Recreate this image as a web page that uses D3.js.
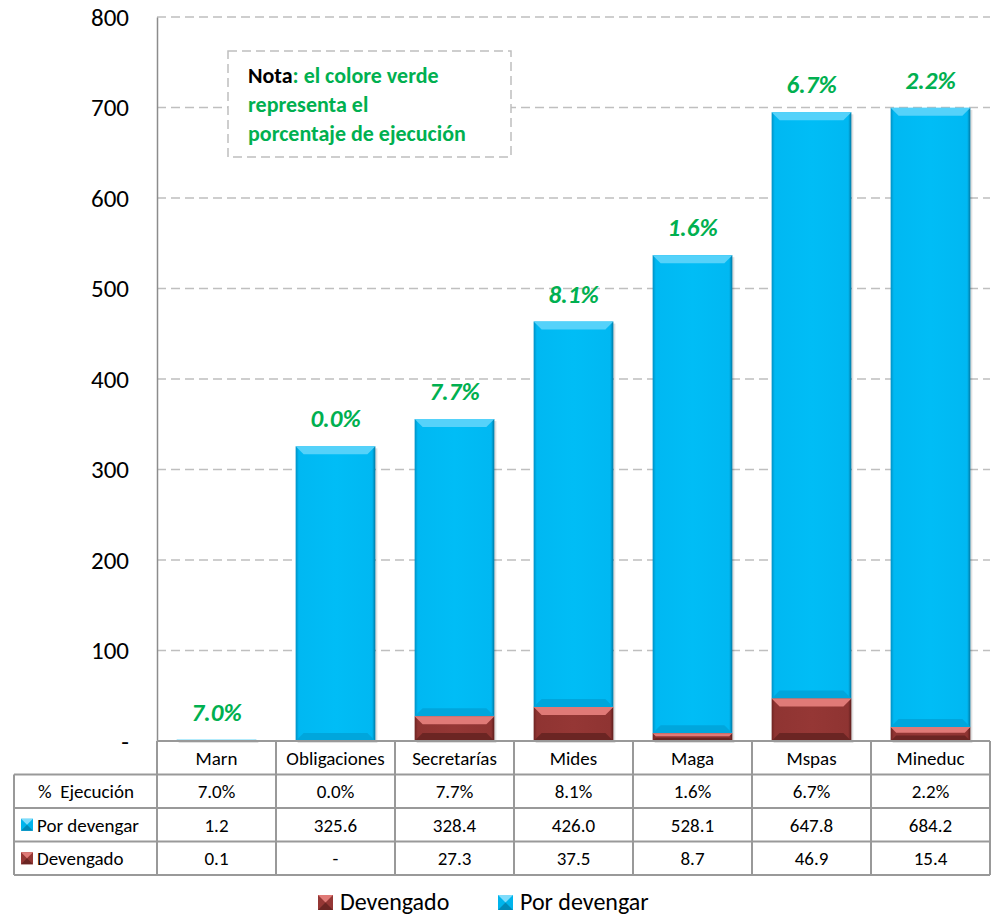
<!DOCTYPE html>
<html>
<head>
<meta charset="utf-8">
<script src="https://cdn.jsdelivr.net/npm/d3@7"></script>
<style>
  body { margin: 0; background: #fff; }
  svg { display: block; font-family: Carlito, Lato, "Open Sans", sans-serif; }
</style>
</head>
<body>
<div id="chart"></div>
<script>
// data
const categories = ["Marn", "Obligaciones", "Secretarías", "Mides", "Maga", "Mspas", "Mineduc"];
const devengado = [0.1, 0, 27.3, 37.5, 8.7, 46.9, 15.4];
const porDevengar = [1.2, 325.6, 328.4, 426.0, 528.1, 647.8, 684.2];
const ejecucion = [7.0, 0.0, 7.7, 8.1, 1.6, 6.7, 2.2];
const yTicks = [0, 100, 200, 300, 400, 500, 600, 700, 800];

const width = 996, height = 918;
const plotLeft = 157, plotRight = 990, plotTop = 17, plotBottom = 741;
const rowH = 33.5;

const svg = d3.select("#chart").append("svg")
    .attr("width", width)
    .attr("height", height);

const x = d3.scaleBand().domain(categories).range([plotLeft, plotRight]).paddingInner(0.33).paddingOuter(0.165);
const xCell = d3.scaleBand().domain(categories).range([plotLeft, plotRight]);
const y = d3.scaleLinear().domain([0, 800]).range([plotBottom, plotTop]);

// grid lines
svg.append("g")
    .selectAll("line")
    .data(yTicks.filter(d => d > 0))
    .join("line")
    .attr("x1", plotLeft).attr("x2", plotRight)
    .attr("y1", d => y(d)).attr("y2", d => y(d))
    .attr("stroke", "#bfbfbf")
    .attr("stroke-width", 1.5)
    .attr("stroke-dasharray", "9,5");

// y axis
const yAxis = svg.append("g")
    .attr("transform", "translate(" + plotLeft + ",0)")
    .call(d3.axisLeft(y).tickValues(yTicks).tickSize(0).tickPadding(28)
        .tickFormat(d => d === 0 ? "-" : d));
yAxis.select(".domain").attr("stroke", "#8c8c8c").attr("stroke-width", 1.5);
yAxis.selectAll("text").attr("font-size", 25).attr("fill", "#000")
    .attr("font-family", "Carlito, Lato, 'Open Sans', sans-serif");

// gradients for the bevel look
const defs = svg.append("defs");
function hGrad(id, stops) {
    const g = defs.append("linearGradient").attr("id", id)
        .attr("x1", 0).attr("x2", 1).attr("y1", 0).attr("y2", 0);
    stops.forEach(s => g.append("stop").attr("offset", s[0]).attr("stop-color", s[1]));
}
hGrad("blueBody", [[0, "#0090c4"], [0.04, "#00b8f2"], [0.5, "#00bdf6"], [0.96, "#00b8f2"], [1, "#0078a3"]]);
hGrad("redBody", [[0, "#6e2422"], [0.04, "#8f3432"], [0.5, "#953735"], [0.96, "#8f3432"], [1, "#5c1d1c"]]);

function drawBar(g, x0, w, y0, y1, body, bevelTop, bevelBot) {
    const h = y1 - y0;
    if (h <= 0) return;
    const b = Math.min(8, h / 2.5);
    g.append("rect").attr("x", x0).attr("y", y0).attr("width", w).attr("height", h)
        .attr("fill", body);
    g.append("polygon")
        .attr("points", [[x0, y0], [x0 + w, y0], [x0 + w - b, y0 + b], [x0 + b, y0 + b]].join(" "))
        .attr("fill", bevelTop);
    g.append("polygon")
        .attr("points", [[x0, y1], [x0 + w, y1], [x0 + w - b, y1 - b], [x0 + b, y1 - b]].join(" "))
        .attr("fill", bevelBot);
}

const bars = svg.append("g");
categories.forEach((c, i) => {
    const x0 = x(c), w = x.bandwidth();
    const d0 = devengado[i], p0 = porDevengar[i];
    // shadow
    bars.append("rect").attr("x", x0 + 2).attr("y", y(d0 + p0) + 2)
        .attr("width", w).attr("height", y(0) - y(d0 + p0))
        .attr("fill", "#000").attr("opacity", 0.12);
    drawBar(bars, x0, w, y(d0 + p0), y(d0), "url(#blueBody)", "#55d2fa", "#00a6dc");
    drawBar(bars, x0, w, y(d0), y(0), "url(#redBody)", "#e07a77", "#6b2523");
});

// percentage labels
svg.append("g")
    .selectAll("text")
    .data(categories)
    .join("text")
    .attr("x", d => x(d) + x.bandwidth() / 2)
    .attr("y", (d, i) => y(devengado[i] + porDevengar[i]) - 19)
    .attr("text-anchor", "middle")
    .attr("font-size", 25)
    .attr("font-weight", "bold")
    .attr("font-style", "italic")
    .attr("fill", "#00b050")
    .text((d, i) => ejecucion[i].toFixed(1) + "%");

// nota box
const nota = svg.append("g");
nota.append("rect").attr("x", 228).attr("y", 51).attr("width", 283).attr("height", 106)
    .attr("fill", "#fff").attr("stroke", "#bfbfbf").attr("stroke-width", 1.5)
    .attr("stroke-dasharray", "9,5");
const notaText = nota.append("text").attr("font-size", 22).attr("font-weight", "bold").attr("fill", "#00b050");
const l1 = notaText.append("tspan").attr("x", 248).attr("y", 83);
l1.append("tspan").attr("fill", "#000").text("Nota");
l1.append("tspan").text(": el colore verde");
notaText.append("tspan").attr("x", 248).attr("y", 112).text("representa el");
notaText.append("tspan").attr("x", 248).attr("y", 141).text("porcentaje de ejecución");

// data table
const table = svg.append("g");
const lineColor = "#999";
const fmt = v => v === 0 ? "-" : v.toFixed(1);
const rows = [
    { label: "%  Ejecución", values: ejecucion.map(v => v.toFixed(1) + "%"), swatch: null },
    { label: "Por devengar", values: porDevengar.map(fmt), swatch: "blue" },
    { label: "Devengado", values: devengado.map(fmt), swatch: "red" }
];
const tableBottom = plotBottom + rowH * 4;
const cellFont = 19;

// verticals
categories.concat(["_end"]).forEach((c, i) => {
    const xv = i < categories.length ? xCell(c) : plotRight;
    table.append("line").attr("x1", xv).attr("x2", xv).attr("y1", plotBottom).attr("y2", tableBottom)
        .attr("stroke", lineColor).attr("stroke-width", 2);
});
table.append("line").attr("x1", 14).attr("x2", 14).attr("y1", plotBottom + rowH).attr("y2", tableBottom)
    .attr("stroke", lineColor).attr("stroke-width", 2);
// horizontals
table.append("line").attr("x1", plotLeft).attr("x2", plotRight).attr("y1", plotBottom).attr("y2", plotBottom)
    .attr("stroke", lineColor).attr("stroke-width", 2);
[1, 2, 3, 4].forEach(r => {
    table.append("line").attr("x1", 14).attr("x2", plotRight)
        .attr("y1", plotBottom + rowH * r).attr("y2", plotBottom + rowH * r)
        .attr("stroke", lineColor).attr("stroke-width", 2);
});

// category row
table.selectAll(".cat").data(categories).join("text")
    .attr("x", d => xCell(d) + xCell.bandwidth() / 2)
    .attr("y", plotBottom + rowH / 2 + 7)
    .attr("text-anchor", "middle").attr("font-size", cellFont).attr("fill", "#000")
    .text(d => d);

function swatch(g, sx, sy, kind, s) {
    g.append("rect").attr("x", sx).attr("y", sy).attr("width", s).attr("height", s)
        .attr("fill", kind === "blue" ? "#00b4ec" : "#953735");
    g.append("polygon")
        .attr("points", [[sx, sy], [sx + s, sy], [sx + s / 2, sy + s / 2]].join(" "))
        .attr("fill", kind === "blue" ? "#7fdcfb" : "#e07a77");
    g.append("polygon")
        .attr("points", [[sx, sy + s], [sx + s, sy + s], [sx + s / 2, sy + s / 2]].join(" "))
        .attr("fill", kind === "blue" ? "#0089b8" : "#6b2523");
}

rows.forEach((row, r) => {
    const cy = plotBottom + rowH * (r + 1) + rowH / 2 + 7;
    if (row.swatch) {
        swatch(table, 21, cy - 13, row.swatch, 12);
        table.append("text").attr("x", 37).attr("y", cy).attr("font-size", cellFont).text(row.label);
    } else {
        table.append("text").attr("x", 86).attr("y", cy).attr("text-anchor", "middle")
            .attr("font-size", cellFont).style("white-space", "pre").text(row.label);
    }
    table.selectAll(".v" + r).data(categories).join("text")
        .attr("x", d => xCell(d) + xCell.bandwidth() / 2)
        .attr("y", cy)
        .attr("text-anchor", "middle").attr("font-size", cellFont)
        .text((d, i) => row.values[i]);
});

// legend
const legend = svg.append("g");
const legendItems = [["Devengado", "red", 318], ["Por devengar", "blue", 498]];
legendItems.forEach(it => {
    swatch(legend, it[2], 895, it[1], 15);
    legend.append("text").attr("x", it[2] + 22).attr("y", 910).attr("font-size", 24).text(it[0]);
});
</script>
</body>
</html>
